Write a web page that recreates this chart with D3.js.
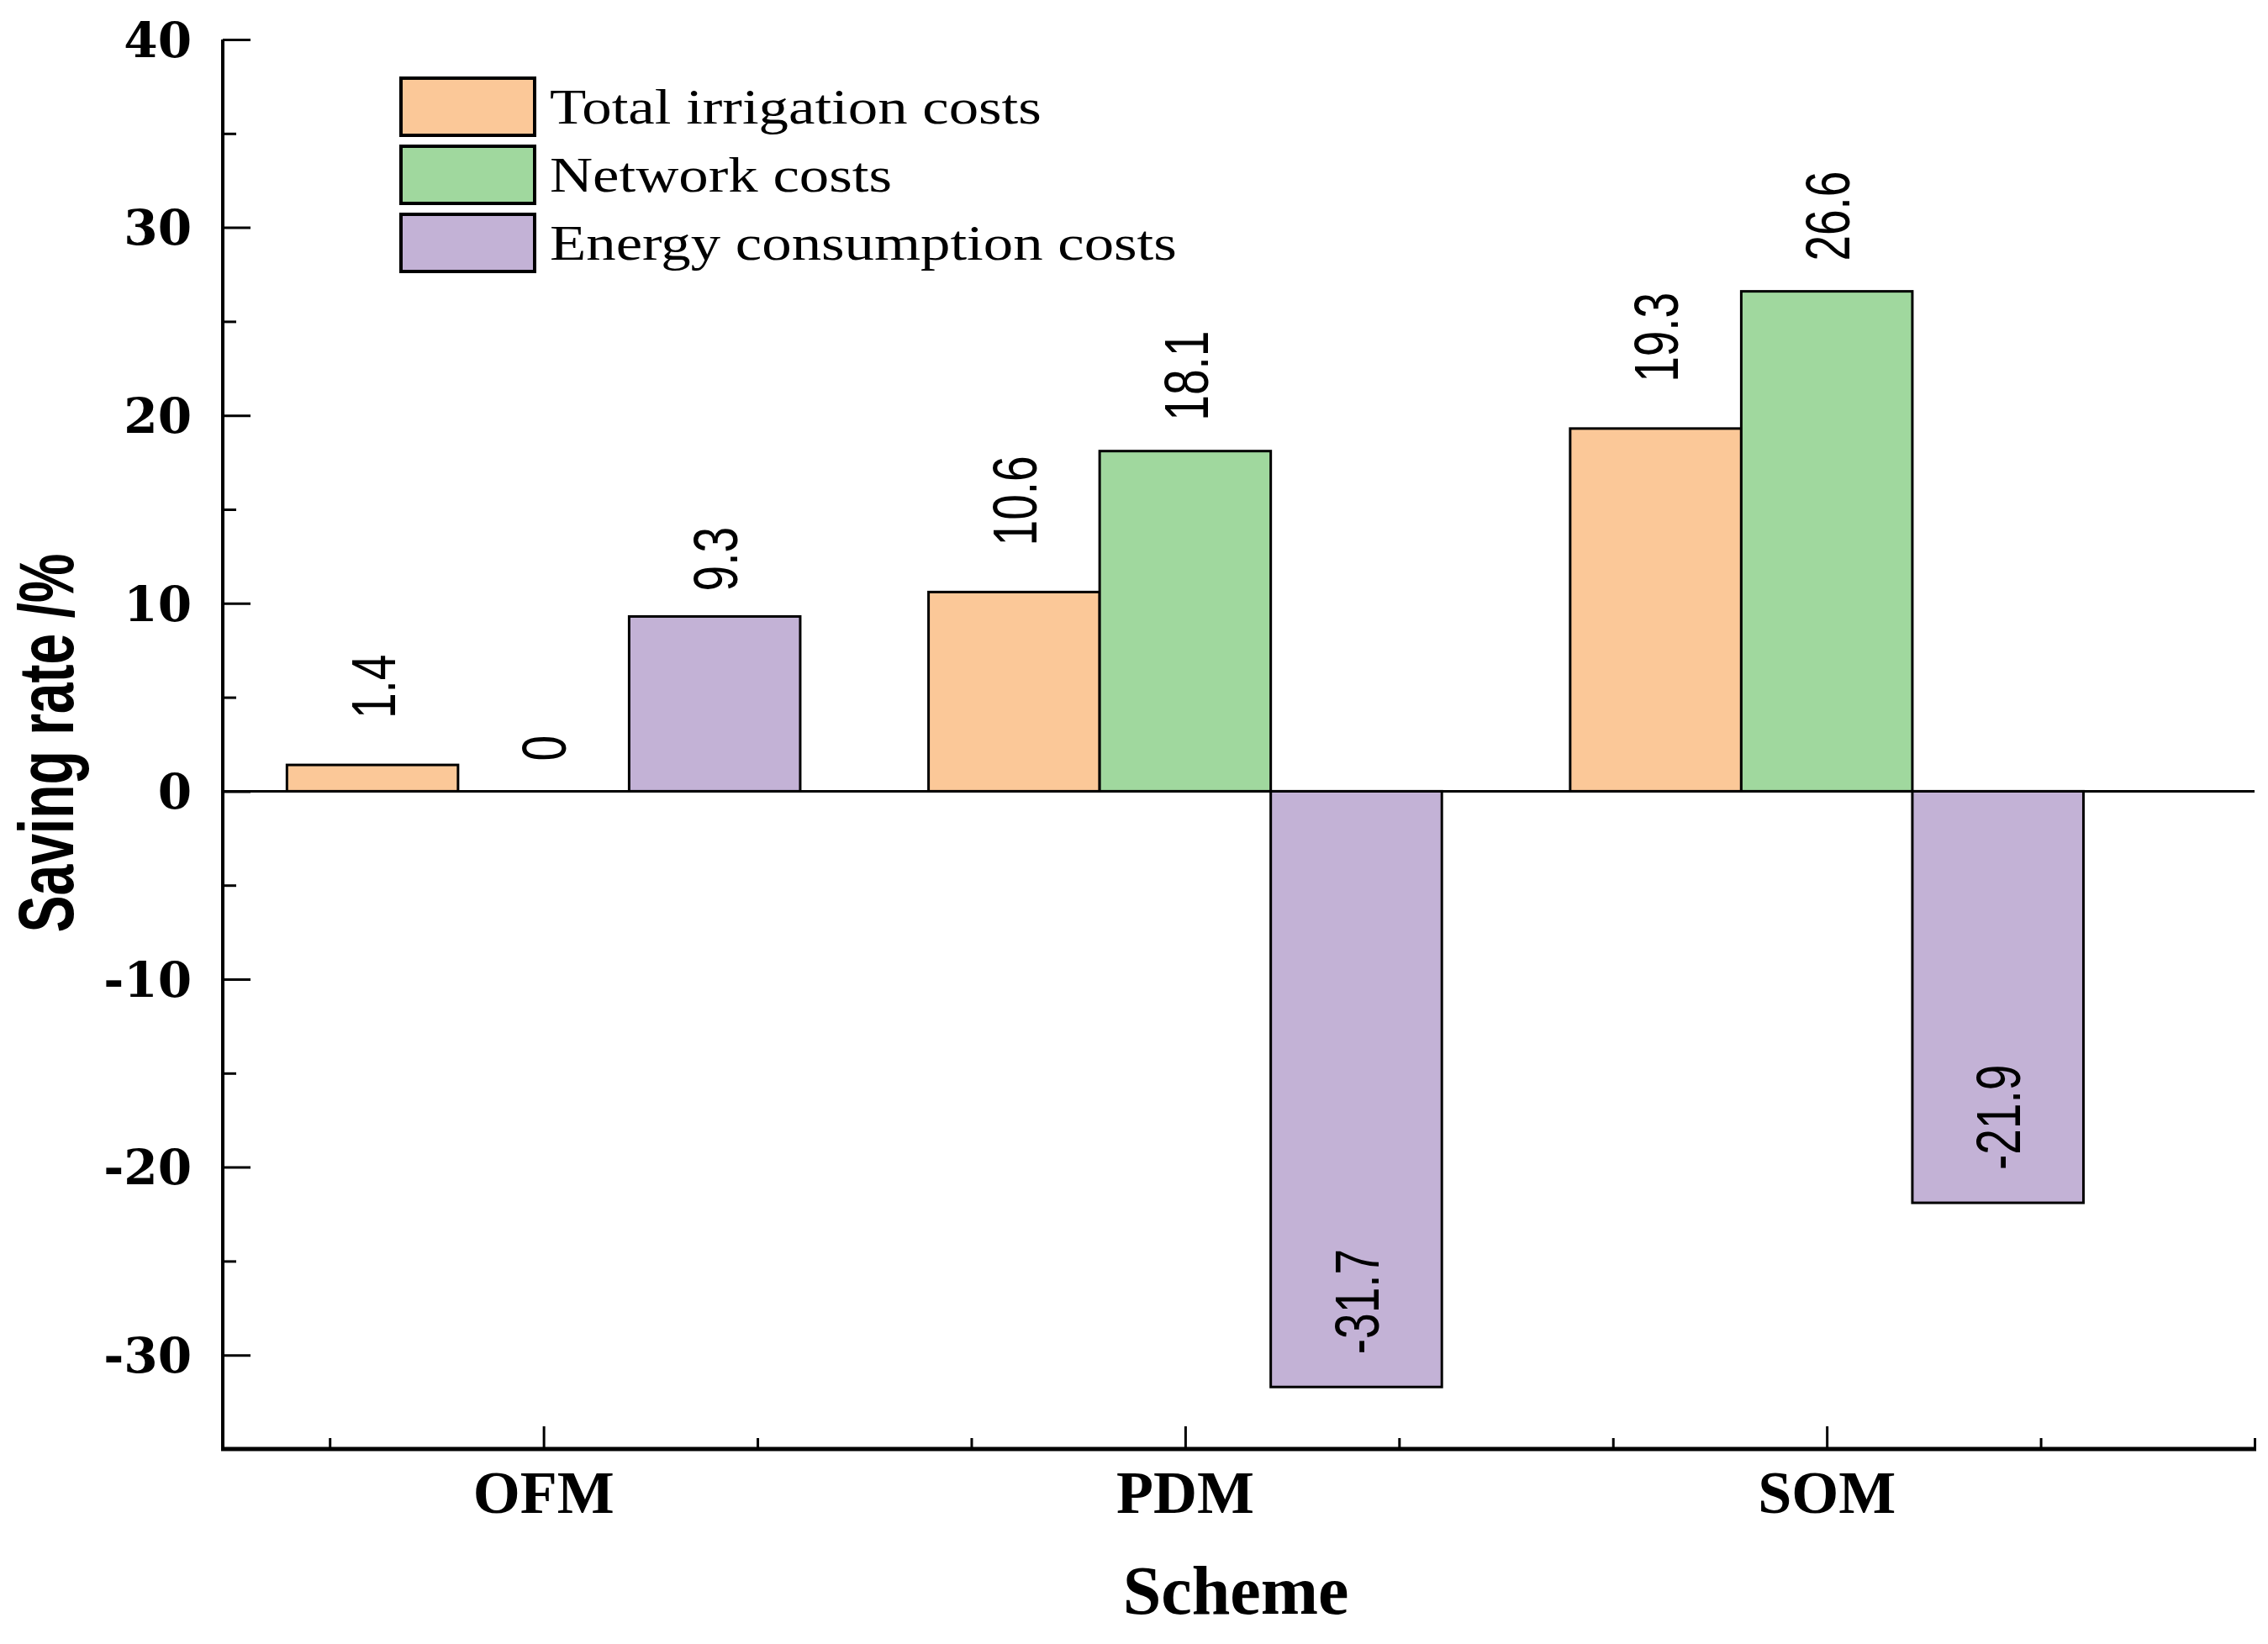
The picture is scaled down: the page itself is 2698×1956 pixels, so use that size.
<!DOCTYPE html>
<html>
<head>
<meta charset="utf-8">
<script src="https://cdn.jsdelivr.net/npm/d3@7"></script>
<style>
body{margin:0;background:#fff;}
</style>
</head>
<body>
<div id="chart"></div>
<script>
var schemes=["OFM","PDM","SOM"];
var seriesNames=["Total irrigation costs","Network costs","Energy consumption costs"];
var totalIrrigation=[1.4,10.6,19.3];
var networkCosts=[0,18.1,26.6];
var energyCosts=[9.3,-31.7,-21.9];
var yTicks=[-30,-20,-10,0,10,20,30,40];

var wide=2698;
var high=1956;
var colors=["#FBC898","#A0D89E","#C3B2D6"];
var labelGap=[55,36,30];
var series=[totalIrrigation,networkCosts,energyCosts];

var svg=d3
  .select("#chart")
  .append("svg")
  .attr("width",wide)
  .attr("height",high);

// x is linear so the minor ticks can sit between schemes
var xscale=d3
  .scaleLinear()
  .domain([0.5,3+2/3])
  .range([265,2682]);
var yscale=d3
  .scaleLinear()
  .domain([-35,40])
  .range([1724,47]);
var barW=xscale(1+0.8/3)-xscale(1);

// y axis
var yaxis=d3.axisRight(yscale).tickValues(yTicks).tickSize(33).tickFormat("");
var yminor=d3.axisRight(yscale).tickValues(d3.range(-25,40,10)).tickSize(16).tickFormat("");
svg.append("g").attr("class","yMinor").attr("transform","translate(265,0)").call(yminor);
svg.append("g").attr("class","yAxis").attr("transform","translate(265,0)").call(yaxis);
svg.selectAll(".yAxis path, .yMinor path").remove();
svg.selectAll(".yAxis line, .yMinor line").attr("stroke","#000").attr("stroke-width",3);
svg.append("line")
  .attr("x1",265).attr("x2",265)
  .attr("y1",yscale(40)).attr("y2",yscale(-35)+2)
  .attr("stroke","#000").attr("stroke-width",4);
svg.selectAll(".yLabel")
  .data(yTicks)
  .enter()
  .append("text")
  .attr("class","yLabel")
  .attr("x",228)
  .attr("y",function(d){return yscale(d);})
  .attr("dy","0.36em")
  .attr("text-anchor","end")
  .attr("font-family","DejaVu Serif")
  .attr("font-weight","bold")
  .attr("font-size",58)
  .text(function(d){return String(d);});

// x axis
var xMajor=[1,2,3];
var xMinor=[2/3,4/3,5/3,7/3,8/3,10/3,11/3];
var xaxis=d3.axisTop(xscale).tickValues(xMajor).tickSize(27).tickFormat("");
var xminor=d3.axisTop(xscale).tickValues(xMinor).tickSize(13).tickFormat("");
svg.append("g").attr("class","xMinor").attr("transform","translate(0,1724)").call(xminor);
svg.append("g").attr("class","xAxis").attr("transform","translate(0,1724)").call(xaxis);
svg.selectAll(".xAxis path, .xMinor path").remove();
svg.selectAll(".xAxis line, .xMinor line").attr("stroke","#000").attr("stroke-width",3);
svg.append("line")
  .attr("x1",263).attr("x2",2684)
  .attr("y1",1724).attr("y2",1724)
  .attr("stroke","#000").attr("stroke-width",5);
svg.selectAll(".xLabel")
  .data(schemes)
  .enter()
  .append("text")
  .attr("class","xLabel")
  .attr("x",function(d,i){return xscale(i+1);})
  .attr("y",1800)
  .attr("text-anchor","middle")
  .attr("font-family","Liberation Serif")
  .attr("font-weight","bold")
  .attr("font-size",72)
  .text(function(d){return d;});

// bars
series.forEach(function(vals,s){
  var g=svg.append("g").attr("class","series"+s);
  g.selectAll("rect")
    .data(vals)
    .enter()
    .append("rect")
    .attr("x",function(d,i){return xscale(i+1)+(s-1)*barW-barW/2;})
    .attr("width",barW)
    .attr("y",function(d){return yscale(Math.max(0,d));})
    .attr("height",function(d){return Math.abs(yscale(d)-yscale(0));})
    .attr("fill",colors[s])
    .attr("stroke","#000")
    .attr("stroke-width",3);
});

// zero line
svg.append("line")
  .attr("x1",265).attr("x2",2682)
  .attr("y1",yscale(0)).attr("y2",yscale(0))
  .attr("stroke","#000").attr("stroke-width",3);

// value labels, rotated
series.forEach(function(vals,s){
  svg.selectAll(".val"+s)
    .data(vals)
    .enter()
    .append("text")
    .attr("class","val"+s)
    .attr("transform",function(d,i){
      var cx=xscale(i+1)+(s-1)*barW;
      var cy=d<0?yscale(d)-39:yscale(d)-labelGap[s];
      return "translate("+cx+","+cy+") scale(1.35,1) rotate(-90)";
    })
    .attr("dy","0.36em")
    .attr("text-anchor","start")
    .attr("font-family","Liberation Sans")
    .attr("font-size",55)
    .text(function(d){return String(d);});
});

// legend
var legend=svg.append("g").attr("class","legend");
seriesNames.forEach(function(name,i){
  var top=93+i*81;
  legend.append("rect")
    .attr("x",477).attr("y",top)
    .attr("width",159).attr("height",68)
    .attr("fill",colors[i])
    .attr("stroke","#000")
    .attr("stroke-width",4);
  legend.append("text")
    .attr("transform","translate(654,"+(top+54)+") scale(1.18,1)")
    .attr("font-family","Liberation Serif")
    .attr("font-size",60)
    .text(name);
});

// axis titles
svg.append("text")
  .attr("transform","translate(87,884) scale(1.4,1) rotate(-90)")
  .attr("text-anchor","middle")
  .attr("font-family","Liberation Sans")
  .attr("font-weight","bold")
  .attr("font-size",66)
  .text("Saving rate /%");
svg.append("text")
  .attr("x",1470)
  .attr("y",1920)
  .attr("text-anchor","middle")
  .attr("font-family","Liberation Serif")
  .attr("font-weight","bold")
  .attr("font-size",82)
  .text("Scheme");
</script>
</body>
</html>
